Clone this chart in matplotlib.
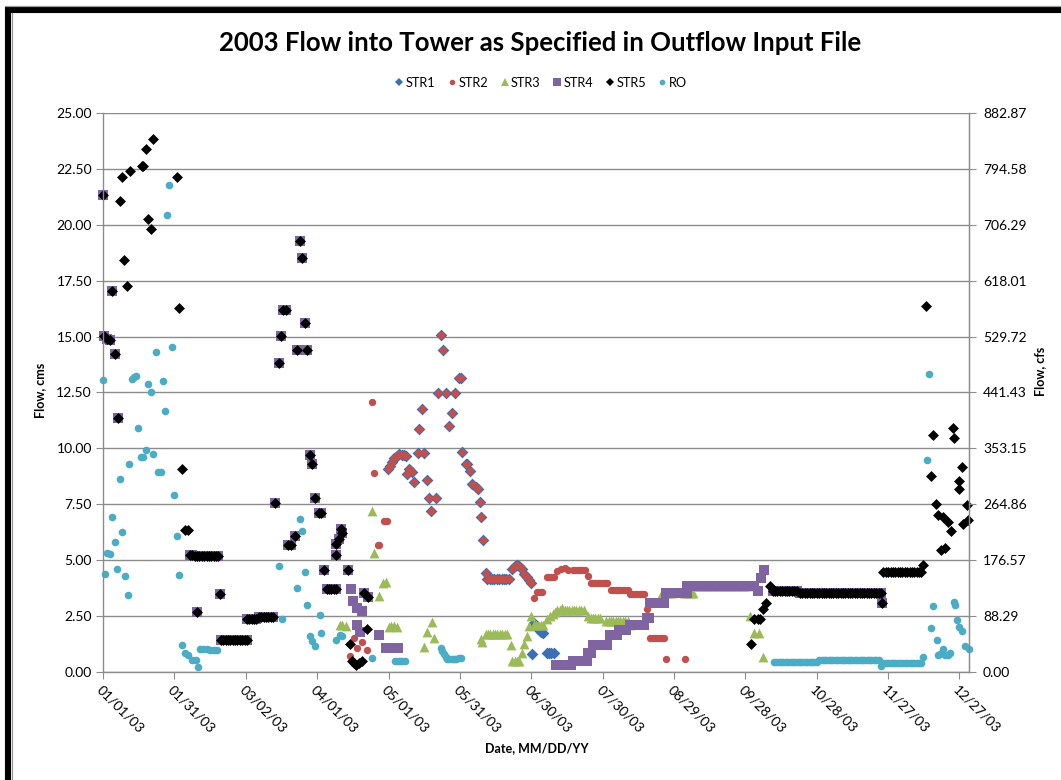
"""
2003 flow into the tower, per structure, as given in the outflow input file.

Run:
    python3 plot.py

Output:
    out.png
"""

import datetime as dt

import matplotlib

matplotlib.use("Agg")
import matplotlib.dates as mdates
import matplotlib.pyplot as plt
from matplotlib.lines import Line2D
from matplotlib.patches import Rectangle
import numpy as np

plt.rcParams["font.family"] = ["Lato", "DejaVu Sans"]

CMS_TO_CFS = 35.3147
START = dt.datetime(2003, 1, 1)

# ---- data: (day of year offset, flow in cms) and flat runs (first day, last day, cms)

STR1_POINTS = [
    (180.4, 0.79), (181.0, 2.20), (182.0, 2.05), (183.0, 1.90), (184.0, 1.80), (185.0, 1.75),
]
STR1_RUNS = [(186.5, 189.5, 0.84)]

# STR1 and STR2 carried the same flow from late April through June
SHARED_12_POINTS = [
    (119.7, 9.06), (120.5, 9.20), (121.5, 9.40), (122.5, 9.55), (123.5, 9.65), (124.5, 9.73),
    (125.5, 9.69), (126.5, 9.69), (127.5, 9.65), (127.8, 8.86), (128.5, 9.09), (129.9, 8.94),
    (130.9, 8.50), (132.2, 9.80), (133.0, 10.87), (133.9, 11.75), (135.0, 9.80), (136.0, 8.60),
    (137.0, 7.80), (137.9, 7.20), (139.8, 7.80), (140.9, 12.47), (142.1, 15.08), (143.0, 14.38),
    (144.2, 12.47), (145.5, 11.00), (146.8, 11.57), (147.8, 12.47), (149.6, 13.16), (150.3, 13.16),
    (151.0, 9.84), (152.4, 9.31), (153.0, 9.28), (154.2, 8.98), (154.9, 8.42), (156.6, 8.27),
    (157.6, 8.19), (158.3, 7.62), (158.7, 6.92), (159.8, 5.90), (160.8, 4.41), (172.0, 4.60),
    (173.0, 4.75), (174.0, 4.80), (175.0, 4.75), (176.0, 4.60), (177.0, 4.40), (178.0, 4.25),
    (179.0, 4.10), (179.7, 4.00),
]
SHARED_12_RUNS = [(161.5, 171.3, 4.16)]

STR2_POINTS = [
    (103.8, 0.70), (105.6, 1.52), (106.6, 1.07), (108.9, 1.33), (110.8, 0.97), (113.0, 12.09),
    (114.1, 8.88), (115.5, 5.67), (116.2, 5.67), (118.2, 6.75), (119.3, 6.75), (181.1, 3.33),
    (191.0, 4.50), (192.5, 4.62), (194.0, 4.66), (195.5, 4.58), (204.0, 4.30), (228.7, 2.81),
    (236.5, 0.57), (244.5, 0.57),
]
STR2_RUNS = [
    (182.5, 185.3, 3.58), (186.5, 189.5, 4.25), (197.5, 203.0, 4.54), (205.0, 212.0, 3.98),
    (213.5, 220.5, 3.65), (221.5, 228.0, 3.50), (230.0, 236.0, 1.51),
]

STR3_POINTS = [
    (99.6, 2.12), (100.6, 2.10), (102.1, 2.04), (113.0, 7.22), (114.1, 5.33), (115.8, 3.42),
    (117.6, 3.99), (119.0, 4.01), (120.0, 2.01), (121.0, 2.05), (122.1, 2.05), (123.5, 2.01),
    (134.9, 1.12), (136.3, 1.78), (138.2, 2.24), (139.1, 1.50), (158.7, 1.46), (159.4, 1.32),
    (171.3, 1.21), (176.2, 0.87), (176.9, 1.24), (178.0, 1.61), (179.0, 2.06), (180.0, 2.51),
    (186.7, 2.35), (188.0, 2.50), (189.0, 2.60), (190.0, 2.70), (193.0, 2.85), (204.0, 2.49),
    (221.5, 2.11), (272.1, 2.51), (273.8, 1.74), (275.9, 1.74), (277.3, 0.69),
]
STR3_RUNS = [
    (160.8, 170.6, 1.69), (172.0, 175.0, 0.49), (181.0, 185.0, 2.10), (191.0, 202.0, 2.78),
    (205.0, 209.0, 2.41), (211.5, 220.5, 2.26), (235.0, 239.5, 3.53), (244.0, 248.0, 3.53),
    (248.0, 271.0, 3.83),
]

STR4_POINTS = [
    (0.0, 21.35), (0.3, 15.02), (1.7, 14.91), (2.8, 14.83), (3.9, 17.04), (4.9, 14.20),
    (6.2, 11.35), (39.6, 2.69), (49.2, 3.49), (72.3, 7.57), (73.9, 13.84), (74.9, 15.02),
    (75.6, 16.19), (77.0, 16.19), (77.7, 5.67), (79.1, 5.67), (80.8, 6.10), (81.7, 14.42),
    (82.7, 19.28), (83.7, 18.50), (84.8, 15.60), (85.9, 14.42), (86.9, 9.69), (87.9, 9.31),
    (89.0, 7.79), (90.8, 7.12), (91.6, 7.12), (92.8, 4.58), (97.9, 5.73), (98.0, 5.25),
    (99.2, 5.93), (99.9, 6.40), (100.6, 6.22), (103.1, 4.54), (104.1, 3.69), (105.2, 3.16),
    (106.6, 2.87), (108.8, 2.72), (106.6, 2.12), (108.0, 1.78), (109.7, 3.54), (111.5, 3.36),
    (115.8, 1.67), (275.2, 3.61), (276.6, 4.20), (278.0, 4.58), (327.5, 3.08),
]
STR4_RUNS = [
    (36.5, 37.5, 5.25), (38.5, 49.0, 5.17), (49.5, 61.0, 1.41), (60.5, 64.5, 2.38),
    (65.5, 72.0, 2.47), (94.0, 98.0, 3.72), (119.0, 124.0, 1.05), (190.5, 196.5, 0.32),
    (197.5, 203.5, 0.48), (204.0, 205.0, 0.84), (206.0, 212.0, 1.21), (213.0, 216.0, 1.66),
    (217.0, 220.5, 1.89), (221.5, 228.0, 2.11), (228.5, 229.5, 2.41), (230.0, 236.0, 3.08),
    (236.5, 239.5, 3.53), (243.5, 245.5, 3.53), (245.5, 274.0, 3.83), (281.5, 292.0, 3.62),
    (293.0, 327.0, 3.53),
]

STR5_POINTS = [
    (0.0, 21.35), (0.3, 15.02), (1.7, 14.91), (2.8, 14.83), (3.9, 17.04), (4.9, 14.20),
    (6.2, 11.35), (7.0, 21.08), (8.0, 22.13), (9.0, 18.42), (10.1, 17.26), (11.2, 22.39),
    (16.2, 22.61), (16.9, 22.61), (18.0, 23.38), (19.0, 20.26), (20.0, 19.81), (21.1, 23.86),
    (31.2, 22.15), (31.9, 16.29), (33.2, 9.10), (34.4, 6.33), (35.8, 6.36), (39.6, 2.69),
    (49.2, 3.49), (72.3, 7.57), (73.9, 13.84), (74.9, 15.02), (75.6, 16.19), (77.0, 16.19),
    (77.7, 5.67), (79.1, 5.67), (80.8, 6.10), (81.7, 14.42), (82.7, 19.28), (83.7, 18.50),
    (84.8, 15.60), (85.9, 14.42), (86.9, 9.69), (87.9, 9.31), (89.0, 7.79), (90.8, 7.12),
    (91.6, 7.12), (92.8, 4.58), (97.9, 5.73), (98.0, 5.25), (99.2, 5.93), (99.9, 6.40),
    (100.6, 6.22), (103.1, 4.54), (103.8, 1.27), (104.5, 0.48), (105.5, 0.40), (106.5, 0.33),
    (107.5, 0.40), (108.7, 0.48), (109.7, 3.54), (110.8, 1.94), (111.5, 3.36),
    (272.4, 1.26), (273.8, 2.37), (275.2, 2.37), (276.0, 2.37), (277.3, 2.81), (278.7, 3.08),
    (280.5, 3.83), (327.5, 3.08), (344.8, 4.80), (345.9, 16.36), (348.0, 8.76), (348.9, 10.60),
    (350.3, 7.50), (351.0, 7.00), (352.4, 5.45), (353.1, 6.93), (353.8, 5.55), (355.2, 6.71),
    (356.3, 6.30), (357.2, 10.90), (357.9, 10.48), (359.6, 8.17), (360.0, 8.55), (361.0, 9.18),
    (361.4, 6.63), (363.2, 7.46), (363.7, 6.78),
]
STR5_RUNS = [
    (36.5, 37.5, 5.25), (38.5, 49.0, 5.17), (49.5, 61.0, 1.41), (60.5, 64.5, 2.38),
    (65.5, 72.0, 2.47), (94.0, 98.0, 3.72), (281.5, 292.0, 3.62), (293.0, 327.0, 3.53),
    (328.0, 344.0, 4.45),
]

RO_POINTS = [
    (0.0, 13.08), (1.0, 4.36), (1.7, 5.32), (2.8, 5.29), (3.9, 6.93), (5.1, 5.80), (6.0, 4.61),
    (7.0, 8.62), (8.1, 6.25), (9.1, 4.29), (10.3, 3.44), (11.1, 9.30), (12.1, 13.10),
    (13.1, 13.18), (13.8, 13.23), (14.9, 10.90), (15.9, 9.61), (16.9, 9.61), (18.0, 9.93),
    (19.0, 12.86), (20.1, 12.54), (21.1, 9.74), (22.2, 14.33), (22.9, 8.94), (24.2, 8.94),
    (25.3, 13.02), (26.1, 11.67), (26.8, 20.44), (27.8, 21.80), (28.9, 14.53), (29.9, 7.93),
    (31.2, 6.09), (32.0, 4.32), (33.0, 1.19), (34.4, 0.83), (35.8, 0.78), (37.2, 0.54),
    (39.0, 0.54), (40.0, 0.24), (40.7, 1.02), (42.0, 1.02), (43.5, 1.02), (45.0, 1.00),
    (46.5, 1.00), (47.8, 0.98), (73.9, 4.73), (75.2, 2.37), (81.7, 3.76), (83.0, 6.82),
    (83.8, 6.30), (84.8, 4.46), (85.9, 3.01), (86.9, 1.60), (88.0, 1.37), (89.0, 1.18),
    (91.1, 2.57), (91.8, 1.75), (97.9, 1.42), (99.6, 1.67), (100.6, 1.60), (113.0, 0.63),
    (141.9, 1.09), (142.6, 0.95), (143.3, 0.79), (144.0, 0.65), (144.7, 0.57), (145.5, 0.57),
    (146.5, 0.57), (147.5, 0.57), (148.5, 0.60), (149.5, 0.62), (150.3, 0.64), (327.2, 0.28),
    (344.8, 0.69), (346.2, 9.50), (347.2, 13.33), (348.0, 1.96), (349.0, 2.96), (350.4, 1.41),
    (351.0, 0.75), (352.0, 0.80), (353.0, 1.02), (354.0, 0.75), (355.0, 0.75), (355.8, 0.85),
    (357.5, 3.11), (358.2, 3.00), (358.9, 2.34), (359.9, 2.00), (361.0, 1.85), (362.4, 1.17),
    (364.1, 1.02),
]
RO_RUNS = [(122.8, 127.7, 0.48), (282.0, 300.0, 0.46), (301.0, 326.5, 0.53), (328.0, 344.0, 0.42)]

TICK_DAYS = list(range(0, 361, 30))
CMS_TICKS = [0.0, 2.5, 5.0, 7.5, 10.0, 12.5, 15.0, 17.5, 20.0, 22.5, 25.0]

# marker, colour, scatter size
STYLES = {
    "STR1": ("D", "#3B6FB6", 36),
    "STR2": ("o", "#C0504D", 28),
    "STR3": ("^", "#9BBB59", 50),
    "STR4": ("s", "#8064A2", 46),
    "STR5": ("D", "#000000", 31),
    "RO": ("o", "#4BACC6", 30),
}

GRID = "#8C8C8C"


def build_series(points, runs):
    """Turn single readings plus flat daily runs into date numbers and values."""
    days = [d for d, _ in points]
    vals = [v for _, v in points]
    for d0, d1, v in runs:
        run_days = np.arange(d0, d1 + 0.01, 1.0)
        days.extend(run_days)
        vals.extend([v] * len(run_days))
    x = mdates.date2num(START) + np.asarray(days, dtype=float)
    return x, np.asarray(vals, dtype=float)


def get_series():
    return [
        ("STR1", STR1_POINTS + SHARED_12_POINTS, STR1_RUNS + SHARED_12_RUNS),
        ("STR2", STR2_POINTS + SHARED_12_POINTS, STR2_RUNS + SHARED_12_RUNS),
        ("STR3", STR3_POINTS, STR3_RUNS),
        ("STR4", STR4_POINTS, STR4_RUNS),
        ("STR5", STR5_POINTS, STR5_RUNS),
        ("RO", RO_POINTS, RO_RUNS),
    ]


def draw_frame(fig):
    """Heavy black border on the left and top edges of the page."""
    w, h = fig.get_size_inches() * fig.dpi
    fig.add_artist(Rectangle((8 / w, -0.2), 1.5, 1.2 - 9.5 / h, transform=fig.transFigure,
                             fill=False, edgecolor="black", linewidth=4.4, clip_on=False))
    fig.add_artist(Line2D([5 / w, 1.0], [1 - 5.8 / h, 1 - 5.8 / h], transform=fig.transFigure,
                          color="#9A9A9A", linewidth=0.9))
    fig.add_artist(Line2D([11.8 / w, 11.8 / w], [0.0, 1 - 12.5 / h], transform=fig.transFigure,
                          color="#9A9A9A", linewidth=0.9))


def draw_chart(fig):
    ax = fig.add_axes([0.0971, 0.1385, 0.8162, 0.7166])
    base = mdates.date2num(START)

    handles = []
    for name, points, runs in get_series():
        marker, color, size = STYLES[name]
        x, y = build_series(points, runs)
        ax.scatter(x, y, marker=marker, s=size, color=color, linewidths=0, clip_on=False)
        handles.append(Line2D([], [], marker=marker, linestyle="none", color=color,
                              markersize=np.sqrt(size) * 0.75, markeredgewidth=0, label=name))

    ax.set_xlim(base, base + 364)
    ax.set_ylim(0, 25)
    ax.set_yticks(CMS_TICKS)
    ax.set_yticklabels([f"{v:.2f}" for v in CMS_TICKS])
    ticks = [base + d for d in TICK_DAYS]
    labels = [(START + dt.timedelta(days=d)).strftime("%m/%d/%y") for d in TICK_DAYS]
    ax.set_xticks(ticks, labels=labels, rotation=-45, ha="left", rotation_mode="anchor")

    ax.yaxis.grid(True, color=GRID, linewidth=1.0)
    ax.set_axisbelow(True)
    for side in ("left", "bottom", "right"):
        ax.spines[side].set_color(GRID)
        ax.spines[side].set_linewidth(1.0)
    ax.spines["top"].set_visible(False)
    ax.tick_params(axis="y", length=5, color=GRID, labelsize=10, pad=3)
    ax.tick_params(axis="x", length=5, color=GRID, labelsize=10, pad=3)

    # right-hand axis in cfs, same gridlines
    ax2 = ax.twinx()
    ax2.set_ylim(0, 25 * CMS_TO_CFS)
    cfs_ticks = [v * CMS_TO_CFS for v in CMS_TICKS]
    ax2.set_yticks(cfs_ticks)
    ax2.set_yticklabels([f"{v:.2f}" for v in cfs_ticks])
    ax2.spines["top"].set_visible(False)
    ax2.spines["right"].set_color(GRID)
    ax2.spines["left"].set_visible(False)
    ax2.spines["bottom"].set_visible(False)
    ax2.tick_params(axis="y", length=5, color=GRID, labelsize=10, pad=5)

    fig.text(0.509, 0.945, "2003 Flow into Tower as Specified in Outflow Input File",
             ha="center", va="center", fontsize=18.5, fontweight="bold",
             family=["Liberation Sans Narrow", "Lato"])
    fig.legend(handles=handles, loc="center", bbox_to_anchor=(0.510, 0.894), ncol=6,
               frameon=False, fontsize=9.2, handlelength=0.6, handletextpad=0.2,
               columnspacing=1.0)
    fig.text(0.038, 0.499, "Flow, cms", rotation=90, ha="center", va="center",
             fontsize=9, fontweight="bold")
    fig.text(0.980, 0.524, "Flow, cfs", rotation=90, ha="center", va="center",
             fontsize=9, fontweight="bold")
    fig.text(0.506, 0.041, "Date, MM/DD/YY", ha="center", va="center",
             fontsize=9, fontweight="bold")


def main():
    fig = plt.figure(figsize=(10.61, 7.80), dpi=100)
    draw_chart(fig)
    draw_frame(fig)
    fig.savefig("out.png", dpi=100, facecolor="white")
    plt.close(fig)


if __name__ == "__main__":
    main()
